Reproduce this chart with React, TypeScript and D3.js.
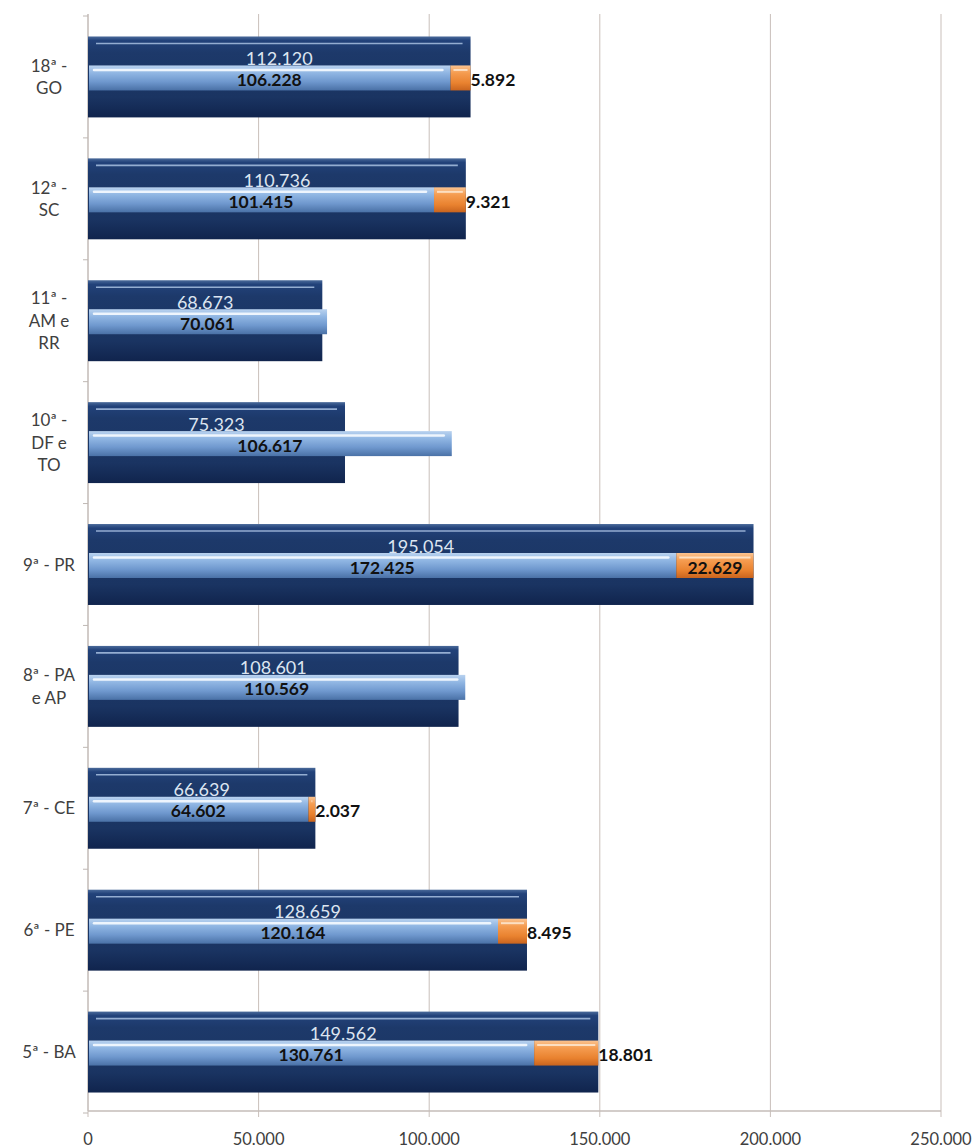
import React from "react";
import * as d3 from "d3";

// Regional totals and their split (base + additional), one entry per region
const categories = [
  "18ª - GO",
  "12ª - SC",
  "11ª - AM e RR",
  "10ª - DF e TO",
  "9ª - PR",
  "8ª - PA e AP",
  "7ª - CE",
  "6ª - PE",
  "5ª - BA",
];
const categoryLines = [
  ["18ª -", "GO"],
  ["12ª -", "SC"],
  ["11ª -", "AM e", "RR"],
  ["10ª -", "DF e", "TO"],
  ["9ª - PR"],
  ["8ª - PA", "e AP"],
  ["7ª - CE"],
  ["6ª - PE"],
  ["5ª - BA"],
];
const totals = [112120, 110736, 68673, 75323, 195054, 108601, 66639, 128659, 149562];
const baseValues = [106228, 101415, 70061, 106617, 172425, 110569, 64602, 120164, 130761];
const extraValues = [5892, 9321, 0, 0, 22629, 0, 2037, 8495, 18801];
const xTicks = [0, 50000, 100000, 150000, 200000, 250000];

const W = 977;
const H = 1148;
const left = 88;
const right = 941;
const top = 16;
const bottom = 1113;
const axisY = 1111;

const ptBR = d3.formatLocale({
  decimal: ",",
  thousands: ".",
  grouping: [3],
  currency: ["R$", ""],
});
const fmt = ptBR.format(",d");

const FONT = "Lato, 'Open Sans', sans-serif";

function textWidth(s: string, size: number, bold: boolean) {
  // rough width for Lato digits
  let w = 0;
  for (const ch of s) w += ch === "." ? 0.27 : 0.58;
  return w * size * (bold ? 1.03 : 1);
}

export default function App() {
  const x = d3.scaleLinear().domain([0, 250000]).range([left, right]);
  const y = d3
    .scaleBand<string>()
    .domain(categories)
    .range([top, bottom])
    .paddingInner(0.336)
    .paddingOuter(0.168);

  const darkH = y.bandwidth();
  const lightH = 25;
  const boundaries = d3.range(categories.length + 1).map((i) => top + i * y.step());

  return (
    <svg
      width={W}
      height={H}
      style={{ position: "absolute", left: 0, top: 0, background: "#fff" }}
      fontFamily={FONT}
    >
      <defs>
        <linearGradient id="darkGrad" x1="0" y1="0" x2="0" y2="1">
          <stop offset="0" stopColor="#4A6A9A" />
          <stop offset="0.05" stopColor="#22427A" />
          <stop offset="0.2" stopColor="#1D396A" />
          <stop offset="0.75" stopColor="#1A3462" />
          <stop offset="1" stopColor="#10244D" />
        </linearGradient>
        <linearGradient id="lightGrad" x1="0" y1="0" x2="0" y2="1">
          <stop offset="0" stopColor="#B9D2EF" />
          <stop offset="0.3" stopColor="#90B6E3" />
          <stop offset="0.65" stopColor="#6F98CE" />
          <stop offset="1" stopColor="#4A71A6" />
        </linearGradient>
        <linearGradient id="orangeGrad" x1="0" y1="0" x2="0" y2="1">
          <stop offset="0" stopColor="#FAC390" />
          <stop offset="0.3" stopColor="#F59C50" />
          <stop offset="0.7" stopColor="#E9822F" />
          <stop offset="1" stopColor="#C9641E" />
        </linearGradient>
      </defs>

      {/* vertical gridlines with ticks below the axis */}
      {xTicks.map((t) => (
        <line
          key={"g" + t}
          x1={x(t)}
          x2={x(t)}
          y1={14}
          y2={axisY + 6}
          stroke="#C9BFBA"
          strokeWidth={1}
        />
      ))}
      {/* category axis */}
      <line x1={left} x2={left} y1={14} y2={axisY} stroke="#BFB8B4" />
      {boundaries.map((b, i) => (
        <line key={"ct" + i} x1={left - 5} x2={left} y1={b} y2={b} stroke="#BFB8B4" />
      ))}
      <line x1={left} x2={right} y1={axisY} y2={axisY} stroke="#C4BCB8" strokeWidth={1.5} />

      {xTicks.map((t) => (
        <text
          key={"tl" + t}
          x={x(t)}
          y={1145}
          textAnchor="middle"
          fontSize={16.5}
          fill="#404040"
        >
          {fmt(t)}
        </text>
      ))}

      {categories.map((c, i) => {
        const y0 = y(c)!;
        const cy = y0 + darkH / 2;
        const x0 = x(0);
        const xt = x(totals[i]);
        const xb = x(baseValues[i]);
        const xe = x(baseValues[i] + extraValues[i]);
        const ly = cy - lightH / 2 + 1;
        const lines = categoryLines[i];
        const lh = 22.5;
        const firstBase = cy - ((lines.length - 1) * lh) / 2 + 6;

        const extraLabel = fmt(extraValues[i]);
        const ew = textWidth(extraLabel, 17.5, true);
        const fits = xe - xb >= ew + 14;

        return (
          <g key={c}>
            {lines.map((ln, k) => (
              <text
                key={k}
                x={49}
                y={firstBase + k * lh}
                textAnchor="middle"
                fontSize={17}
                fill="#404040"
              >
                {ln}
              </text>
            ))}

            {/* total */}
            <rect x={x0} y={y0} width={xt - x0} height={darkH} fill="url(#darkGrad)" />
            <line
              x1={x0 + 8}
              x2={xt - 8}
              y1={y0 + 7}
              y2={y0 + 7}
              stroke="#A9C1E2"
              strokeWidth={1.6}
              opacity={0.85}
            />

            {/* base */}
            <rect x={x0 + 1} y={ly} width={xb - x0 - 1} height={lightH} fill="url(#lightGrad)" />
            <line
              x1={x0 + 6}
              x2={xb - 8}
              y1={ly + 4.5}
              y2={ly + 4.5}
              stroke="#EEF5FD"
              strokeWidth={2.5}
              strokeLinecap="round"
            />

            {/* additional */}
            {extraValues[i] > 0 && (
              <>
                <rect x={xb} y={ly} width={xe - xb} height={lightH} fill="url(#orangeGrad)" />
                <line
                  x1={xb + 3}
                  x2={xe - 3}
                  y1={ly + 4.5}
                  y2={ly + 4.5}
                  stroke="#FDE5CC"
                  strokeWidth={2}
                  opacity={0.9}
                />
              </>
            )}

            <text
              x={(x0 + xt) / 2}
              y={cy - 12}
              textAnchor="middle"
              fontSize={18}
              fill="#DCE5F1"
            >
              {fmt(totals[i])}
            </text>
            <text
              x={(x0 + xb) / 2}
              y={cy + 9}
              textAnchor="middle"
              fontSize={17.5}
              fontWeight="bold"
              fill="#111"
            >
              {fmt(baseValues[i])}
            </text>
            {extraValues[i] > 0 && (
              <text
                x={fits ? (xb + xe) / 2 : xe}
                y={cy + 9}
                textAnchor={fits ? "middle" : "start"}
                fontSize={17.5}
                fontWeight="bold"
                fill="#111"
              >
                {extraLabel}
              </text>
            )}
          </g>
        );
      })}
    </svg>
  );
}
